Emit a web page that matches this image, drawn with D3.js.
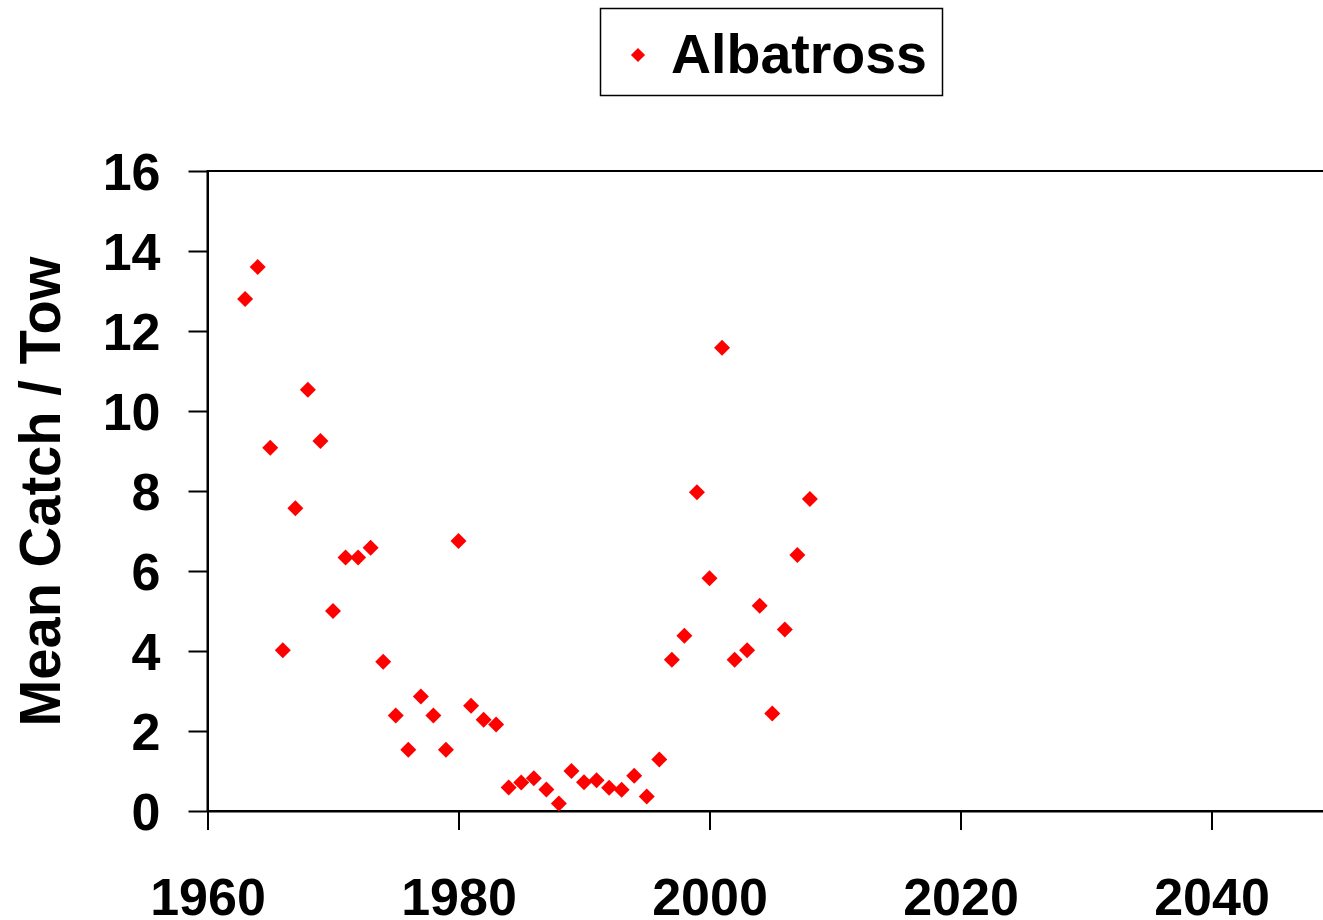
<!DOCTYPE html>
<html>
<head>
<meta charset="utf-8">
<script src="https://cdn.jsdelivr.net/npm/d3@7"></script>
<style>
  html, body { margin: 0; padding: 0; background: #fff; }
  svg { display: block; }
  text { font-family: "Liberation Sans", Arial, sans-serif; font-weight: bold; fill: #000; }
</style>
</head>
<body>
<svg id="chart" width="1323" height="920"></svg>
<script>
const seriesName = "Albatross";
const years = [1963,1964,1965,1966,1967,1968,1969,1970,1971,1972,1973,1974,1975,1976,1977,1978,1979,
               1980,1981,1982,1983,1984,1985,1986,1987,1988,1989,1990,1991,1992,1993,1994,1995,1996,
               1997,1998,1999,2000,2001,2002,2003,2004,2005,2006,2007,2008];
const values = [12.8,13.6,9.08,4.02,7.57,10.53,9.25,5.0,6.34,6.34,6.58,3.73,2.39,1.53,2.86,2.39,1.53,
                6.75,2.63,2.28,2.16,0.59,0.71,0.82,0.54,0.19,1.0,0.72,0.77,0.58,0.53,0.88,0.36,1.29,
                3.78,4.38,7.97,5.82,11.58,3.78,4.02,5.13,2.44,4.54,6.4,7.8];
const xTicks = [1960,1980,2000,2020,2040];
const yTicks = [0,2,4,6,8,10,12,14,16];
const xDomain = [1960, 2050];
const yDomain = [0, 16];

(function () {
const svg = d3.select("#chart");
const mLeft = 207.5, mTop = 171, mBottom = 811;
const x = d3.scaleLinear().domain(xDomain).range([mLeft, mLeft + (1211.5 - 207.5) * 90 / 80]);
const y = d3.scaleLinear().domain(yDomain).range([mBottom, mTop]);

// plot area frame
svg.append("rect")
  .attr("x", x(xDomain[0])).attr("y", y(yDomain[1]))
  .attr("width", x(xDomain[1]) - x(xDomain[0]))
  .attr("height", y(yDomain[0]) - y(yDomain[1]))
  .attr("fill", "none").attr("stroke", "#000").attr("stroke-width", 2);

// y axis
const yAxis = svg.append("g")
  .attr("transform", `translate(${mLeft},0)`)
  .call(d3.axisLeft(y).tickValues(yTicks).tickSize(19).tickSizeOuter(0).tickPadding(28).tickFormat(d3.format("d")));
yAxis.select(".domain").attr("stroke", "#000").attr("stroke-width", 2);
yAxis.selectAll(".tick line").attr("stroke", "#000").attr("stroke-width", 2);
yAxis.selectAll(".tick text")
  .attr("font-size", 52).attr("font-family", "'Liberation Sans', Arial, sans-serif")
  .attr("font-weight", "bold").attr("dy", "0.36em").attr("fill", "#000");

// x axis
const xAxis = svg.append("g")
  .attr("transform", `translate(0,${mBottom})`)
  .call(d3.axisBottom(x).tickValues(xTicks).tickSize(19).tickSizeOuter(0).tickPadding(0).tickFormat(d3.format("d")));
xAxis.select(".domain").attr("stroke", "#000").attr("stroke-width", 2);
xAxis.selectAll(".tick line").attr("stroke", "#000").attr("stroke-width", 2);
xAxis.selectAll(".tick text")
  .attr("font-size", 52).attr("font-family", "'Liberation Sans', Arial, sans-serif")
  .attr("font-weight", "bold").attr("y", 104).attr("dy", 0).attr("fill", "#000");

// y title
svg.append("text")
  .attr("transform", "translate(60,491.5) rotate(-90)")
  .attr("text-anchor", "middle")
  .attr("font-size", 57)
  .attr("textLength", 470)
  .attr("lengthAdjust", "spacingAndGlyphs")
  .text("Mean Catch / Tow");

// points
const diamond = d3.symbol().type(d3.symbolSquare).size(128);
svg.append("g").selectAll("path")
  .data(years.map((yr, i) => ({ yr, v: values[i] })))
  .join("path")
  .attr("d", diamond)
  .attr("transform", d => `translate(${x(d.yr)},${y(d.v)}) rotate(45)`)
  .attr("fill", "#ff0000");

// legend
const lg = svg.append("g");
lg.append("rect").attr("x", 600.5).attr("y", 8.5).attr("width", 342).attr("height", 87)
  .attr("fill", "#fff").attr("stroke", "#000").attr("stroke-width", 1.5);
lg.append("path").attr("d", d3.symbol().type(d3.symbolSquare).size(100))
  .attr("transform", "translate(638,55) rotate(45)").attr("fill", "#ff0000");
lg.append("text").attr("x", 671).attr("y", 73).attr("font-size", 55.5).text(seriesName);
})();
</script>
</body>
</html>
